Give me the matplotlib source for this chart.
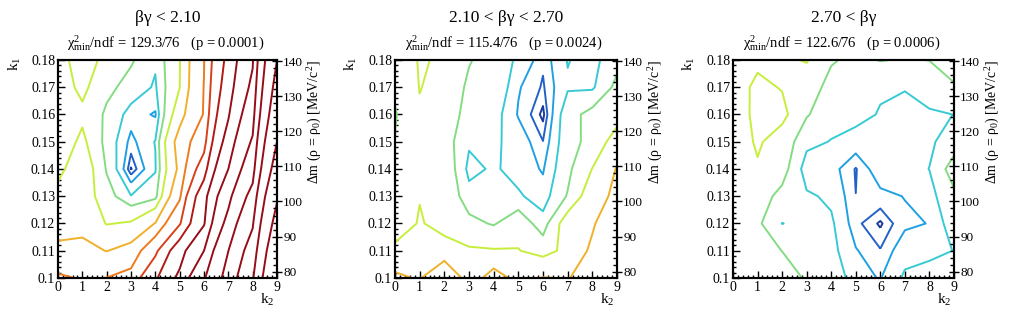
import numpy as np
import matplotlib
matplotlib.use("Agg")
import matplotlib.pyplot as plt
from matplotlib.ticker import MultipleLocator, AutoMinorLocator, FuncFormatter

plt.rcParams['font.family'] = ['Liberation Serif', 'DejaVu Serif']
plt.rcParams['mathtext.fontset'] = 'custom'
plt.rcParams['mathtext.rm'] = 'Liberation Serif'
plt.rcParams['mathtext.it'] = 'Liberation Serif:italic'

# ---------------- data ----------------
k2_values = [0, 1, 2, 3, 4, 5, 6, 7, 8, 9]
k1_values = [0.10, 0.11, 0.12, 0.13, 0.14, 0.15, 0.16, 0.17, 0.18]

# contour levels in delta chi2 (log-spaced, 5 per decade)
contour_levels = [0.398, 0.631, 1.0, 1.585, 2.512, 3.981, 6.31, 10.0, 15.85, 25.12,
                  39.81, 63.1, 100.0, 158.5, 251.2, 398.1, 631.0, 1000.0, 1585.0]
level_colors = ['#1b3a9c', '#2262c8', '#1fa0e2', '#38cad4', '#84dc82', '#c6ee3c',
                '#f0b02a', '#ef7a1c', '#d8401a', '#b01a14', '#960c18', '#960c18',
                '#960c18', '#960c18', '#960c18', '#960c18', '#960c18', '#960c18',
                '#960c18']

# delta chi2 on the (k1 row, k2 column) grid, rows k1 = 0.10 ... 0.18
dchi2_low = [
    [10.6, 9.69, 10.05, 11.5, 23.2, 43.6, 95.5, 182, 380, 1000],
    [6.92, 7.08, 6.24, 7.24, 14.0, 32.3, 63.1, 158, 302, 871],
    [5.25, 5.49, 3.89, 4.17, 6.4, 15.0, 38.0, 115, 240, 724],
    [4.57, 5.01, 3.02, 1.62, 2.09, 9.12, 33.1, 87.1, 182, 603],
    [3.47, 5.25, 2.40, 0.371, 1.51, 6.92, 20.0, 63.1, 132, 478],
    [2.88, 4.37, 2.09, 0.832, 1.62, 7.58, 13.0, 47.8, 105, 398],
    [3.02, 3.63, 2.29, 1.26, 0.933, 5.25, 10.23, 38.0, 83.2, 331],
    [3.16, 4.37, 2.82, 2.09, 1.48, 3.95, 10.1, 31.6, 69.2, 288],
    [3.16, 5.01, 3.39, 2.65, 1.70, 3.89, 9.86, 28.2, 60.3, 251],
]
dchi2_mid = [
    [6.9, 6.05, 9.7, 4.86, 7.5, 5.5, 6.4, 6.2, 7.3, 9.5],
    [4.19, 4.4, 4.32, 4.18, 4.1, 4.05, 3.3, 4.5, 6.8, 9.0],
    [3.5, 4.05, 3.7, 2.85, 2.4, 3.32, 1.9, 5.0, 6.0, 8.5],
    [3.16, 3.95, 3.5, 1.88, 2.09, 1.7, 1.2, 2.6, 5.1, 6.96],
    [3.02, 3.63, 3.39, 1.35, 1.7, 1.28, 0.95, 2.2, 4.02, 6.46],
    [2.57, 3.47, 3.02, 1.7, 1.71, 1.32, 0.64, 2.09, 2.88, 4.79],
    [2.4, 3.85, 2.88, 2.29, 1.9, 0.95, 0.316, 2.09, 2.88, 3.31],
    [2.75, 4.02, 3.6, 2.24, 2.3, 1.05, 0.58, 1.5, 1.45, 2.8],
    [2.88, 4.1, 3.81, 2.61, 1.9, 1.5, 0.7, 1.62, 1.3, 2.2],
]
dchi2_high = [
    [3.5, 3.2, 3.0, 2.4, 2.2, 1.16, 0.97, 1.7, 1.9, 2.2],
    [3.4, 2.9, 2.5, 2.0, 1.8, 1.04, 0.655, 1.33, 1.4, 1.6],
    [3.3, 2.7, 1.57, 1.8, 1.7, 0.72, 0.35, 0.89, 1.02, 2.0],
    [3.3, 3.0, 2.2, 1.7, 1.45, 0.635, 0.86, 1.02, 1.3, 2.3],
    [3.2, 3.81, 2.96, 1.18, 1.2, 0.6, 1.33, 1.2, 1.6, 3.0],
    [3.0, 4.2, 3.2, 1.8, 1.55, 1.3, 1.45, 1.35, 1.45, 2.0],
    [2.7, 4.6, 4.42, 2.6, 1.9, 1.82, 1.53, 1.5, 1.5, 1.59],
    [3.3, 4.3, 3.9, 3.0, 2.2, 2.1, 1.68, 1.6, 1.9, 2.45],
    [3.2, 3.7, 3.675, 4.1, 2.6, 2.3, 2.55, 2.45, 2.53, 2.8],
]

panel_titles = ["βγ < 2.10", "2.10 < βγ < 2.70", "2.70 < βγ"]
chi2_min = ["129.3", "115.4", "122.6"]
ndf = ["76", "76", "76"]
p_values = ["0.0001", "0.0024", "0.0006"]
grids = [dchi2_low, dchi2_mid, dchi2_high]

dm_range = (78.2, 140.3)   # right axis (MeV/c^2) spanning k1 0.10 .. 0.18
dm_ticks = [80, 90, 100, 110, 120, 130, 140]

# ---------------- figure ----------------
W, H = 1014, 315
fig = plt.figure(figsize=(W / 100, H / 100), dpi=100)
rects = [(58, 219), (395, 222), (733, 221)]
ax_top, ax_bot = 60, 278

yfmt = FuncFormatter(lambda v, pos: ("%.2f" % v).rstrip('0'))

for i, (x0, w) in enumerate(rects):
    ax = fig.add_axes([x0 / W, 1 - ax_bot / H, w / W, (ax_bot - ax_top) / H])
    Z = np.array(grids[i])
    ax.contour(k2_values, k1_values, Z, levels=contour_levels,
               colors=level_colors, linewidths=1.4)
    ax.set_xlim(0, 9)
    ax.set_ylim(0.10, 0.18)
    ax.xaxis.set_major_locator(MultipleLocator(1))
    ax.xaxis.set_minor_locator(AutoMinorLocator(5))
    ax.yaxis.set_major_locator(MultipleLocator(0.01))
    ax.yaxis.set_minor_locator(AutoMinorLocator(5))
    ax.yaxis.set_major_formatter(yfmt)
    ax.tick_params(which='both', direction='in', top=False, right=False,
                   width=1.0, colors='black')
    ax.tick_params(which='major', length=5, labelsize=10, pad=2)
    ax.tick_params(which='minor', length=2.5)
    for s in ax.spines.values():
        s.set_linewidth(1.5)

    ax2 = ax.twinx()
    ax2.set_ylim(*dm_range)
    ax2.set_yticks(dm_ticks)
    ax2.yaxis.set_minor_locator(MultipleLocator(2))
    ax2.tick_params(which='major', direction='inout', length=7, width=1.0,
                    labelsize=9.5, pad=1)
    ax2.tick_params(which='minor', direction='in', length=3, width=1.0)
    for s in ax2.spines.values():
        s.set_linewidth(1.5)

    ax.text(0.5, 1.193, panel_titles[i], transform=ax.transAxes,
            ha='center', va='center', fontsize=12.5)
    ax.text(0.49, 1.078,
            "χ$^{2}_{\\mathrm{min}}$/ndf = %s/%s   (p = %s)" % (chi2_min[i], ndf[i], p_values[i]),
            transform=ax.transAxes, ha='center', va='center', fontsize=10.5)
    ax.text(-0.198, 0.985, "k$_{1}$", transform=ax.transAxes, rotation=90,
            ha='center', va='center', fontsize=11)
    ax.text(0.955, -0.10, "k$_{2}$", transform=ax.transAxes,
            ha='center', va='center', fontsize=11)
    ax.text(1.175, 1.0, "Δm (ρ = ρ$_{0}$) [MeV/c$^{2}$]", transform=ax.transAxes,
            rotation=90, ha='center', va='top', fontsize=10)

fig.savefig("out.png", dpi=100)
